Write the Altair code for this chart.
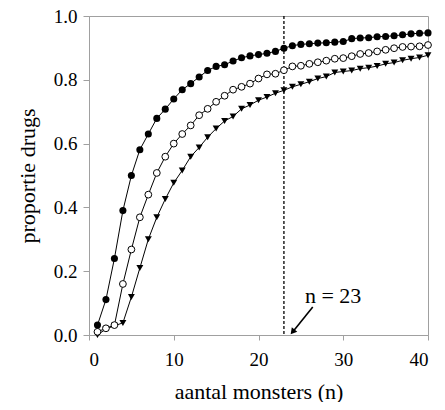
import altair as alt
import pandas as pd

n_values = list(range(1, 41))

filled_circles = [0.031, 0.111, 0.240, 0.390, 0.500, 0.581, 0.630, 0.679, 0.708, 0.740,
                  0.769, 0.788, 0.809, 0.829, 0.842, 0.847, 0.859, 0.869, 0.875, 0.879,
                  0.883, 0.889, 0.899, 0.907, 0.911, 0.913, 0.915, 0.916, 0.918, 0.920,
                  0.929, 0.931, 0.932, 0.935, 0.936, 0.938, 0.941, 0.944, 0.946, 0.947]

open_circles = [0.010, 0.021, 0.031, 0.160, 0.268, 0.369, 0.440, 0.508, 0.559, 0.600,
                0.630, 0.657, 0.689, 0.709, 0.731, 0.750, 0.769, 0.778, 0.788, 0.804,
                0.817, 0.819, 0.830, 0.842, 0.844, 0.850, 0.855, 0.860, 0.866, 0.868,
                0.874, 0.881, 0.884, 0.889, 0.894, 0.899, 0.903, 0.904, 0.905, 0.909]

triangles = [0.000, 0.019, 0.029, 0.038, 0.119, 0.210, 0.300, 0.369, 0.426, 0.477,
             0.516, 0.559, 0.588, 0.620, 0.647, 0.671, 0.685, 0.709, 0.721, 0.736,
             0.746, 0.758, 0.767, 0.778, 0.786, 0.794, 0.804, 0.810, 0.823, 0.826,
             0.829, 0.835, 0.838, 0.843, 0.850, 0.854, 0.861, 0.866, 0.870, 0.877]

x_ticks = [0, 10, 20, 30, 40]
y_ticks = [0.0, 0.2, 0.4, 0.6, 0.8, 1.0]

marker_n = [23]
label_text = ["n = 23"]
label_pos = [(28.8, 0.10)]
arrow_from = (26.4, 0.088)
arrow_to = (24.1, 0.012)

FONT = "Liberation Serif"
GRAY = "#a0a0a0"

rows = []
for name, vals in [("filled", filled_circles), ("open", open_circles), ("tri", triangles)]:
    for n, v in zip(n_values, vals):
        rows.append({"n": n, "p": v, "series": name})
df = pd.DataFrame(rows)

xscale = alt.Scale(domain=[0, 40], nice=False, zero=False)
yscale = alt.Scale(domain=[0, 1], nice=False)

base = alt.Chart(df)

lines = base.mark_line(color="black", strokeWidth=1).encode(
    x=alt.X("n:Q", scale=xscale,
            axis=alt.Axis(values=x_ticks, format="d", title="aantal monsters (n)", grid=False)),
    y=alt.Y("p:Q", scale=yscale,
            axis=alt.Axis(values=y_ticks, format=".1f", title="proportie drugs", grid=False)),
    detail="series:N",
)

pts_filled = base.transform_filter(alt.datum.series == "filled").mark_point(
    shape="circle", filled=True, color="black", size=50, opacity=1
).encode(x="n:Q", y="p:Q")

pts_open = base.transform_filter(alt.datum.series == "open").mark_point(
    shape="circle", filled=True, fill="white", stroke="black", strokeWidth=1, size=46, opacity=1
).encode(x="n:Q", y="p:Q")

pts_tri = base.transform_filter(alt.datum.series == "tri").mark_point(
    shape="triangle-down", filled=True, color="black", size=48, opacity=1
).encode(x="n:Q", y="p:Q")

vline = alt.Chart(pd.DataFrame({"n": marker_n})).mark_rule(
    color="black", strokeWidth=1.3, strokeDash=[3, 2]
).encode(x="n:Q")

label = alt.Chart(pd.DataFrame({"x": [label_pos[0][0]], "y": [label_pos[0][1]], "t": label_text})).mark_text(
    font=FONT, fontSize=22, color="black", align="center", baseline="alphabetic"
).encode(x="x:Q", y="y:Q", text="t:N")

arrow_df = pd.DataFrame({"x": [arrow_from[0]], "y": [arrow_from[1]],
                         "x2": [arrow_to[0]], "y2": [arrow_to[1]]})
arrow_line = alt.Chart(arrow_df).mark_rule(color="black", strokeWidth=1.6).encode(
    x="x:Q", y="y:Q", x2="x2:Q", y2="y2:Q")
arrow_head = alt.Chart(arrow_df).mark_point(
    shape="triangle", filled=True, color="black", size=50, angle=219, opacity=1
).encode(x="x2:Q", y="y2:Q")

chart = alt.layer(lines, vline, pts_tri, pts_open, pts_filled, label, arrow_line, arrow_head).properties(
    width=339, height=319,
    autosize=alt.AutoSizeParams(type="none"),
    padding={"left": 81, "top": 8, "right": 9, "bottom": 67},
).configure_view(
    stroke=GRAY, strokeWidth=1
).configure_axis(
    domainColor=GRAY, tickColor=GRAY, domainWidth=1, tickWidth=1,
    labelFont=FONT, titleFont=FONT, labelColor="black", titleColor="black",
    labelFontSize=19, titleFontSize=22, titleFontWeight="normal",
).configure_axisX(
    tickSize=5, labelPadding=10, titlePadding=12,
).configure_axisY(
    tickSize=6, labelPadding=6, titlePadding=14,
)

chart.save("out.html", embed_options={"renderer": "svg", "actions": False})
